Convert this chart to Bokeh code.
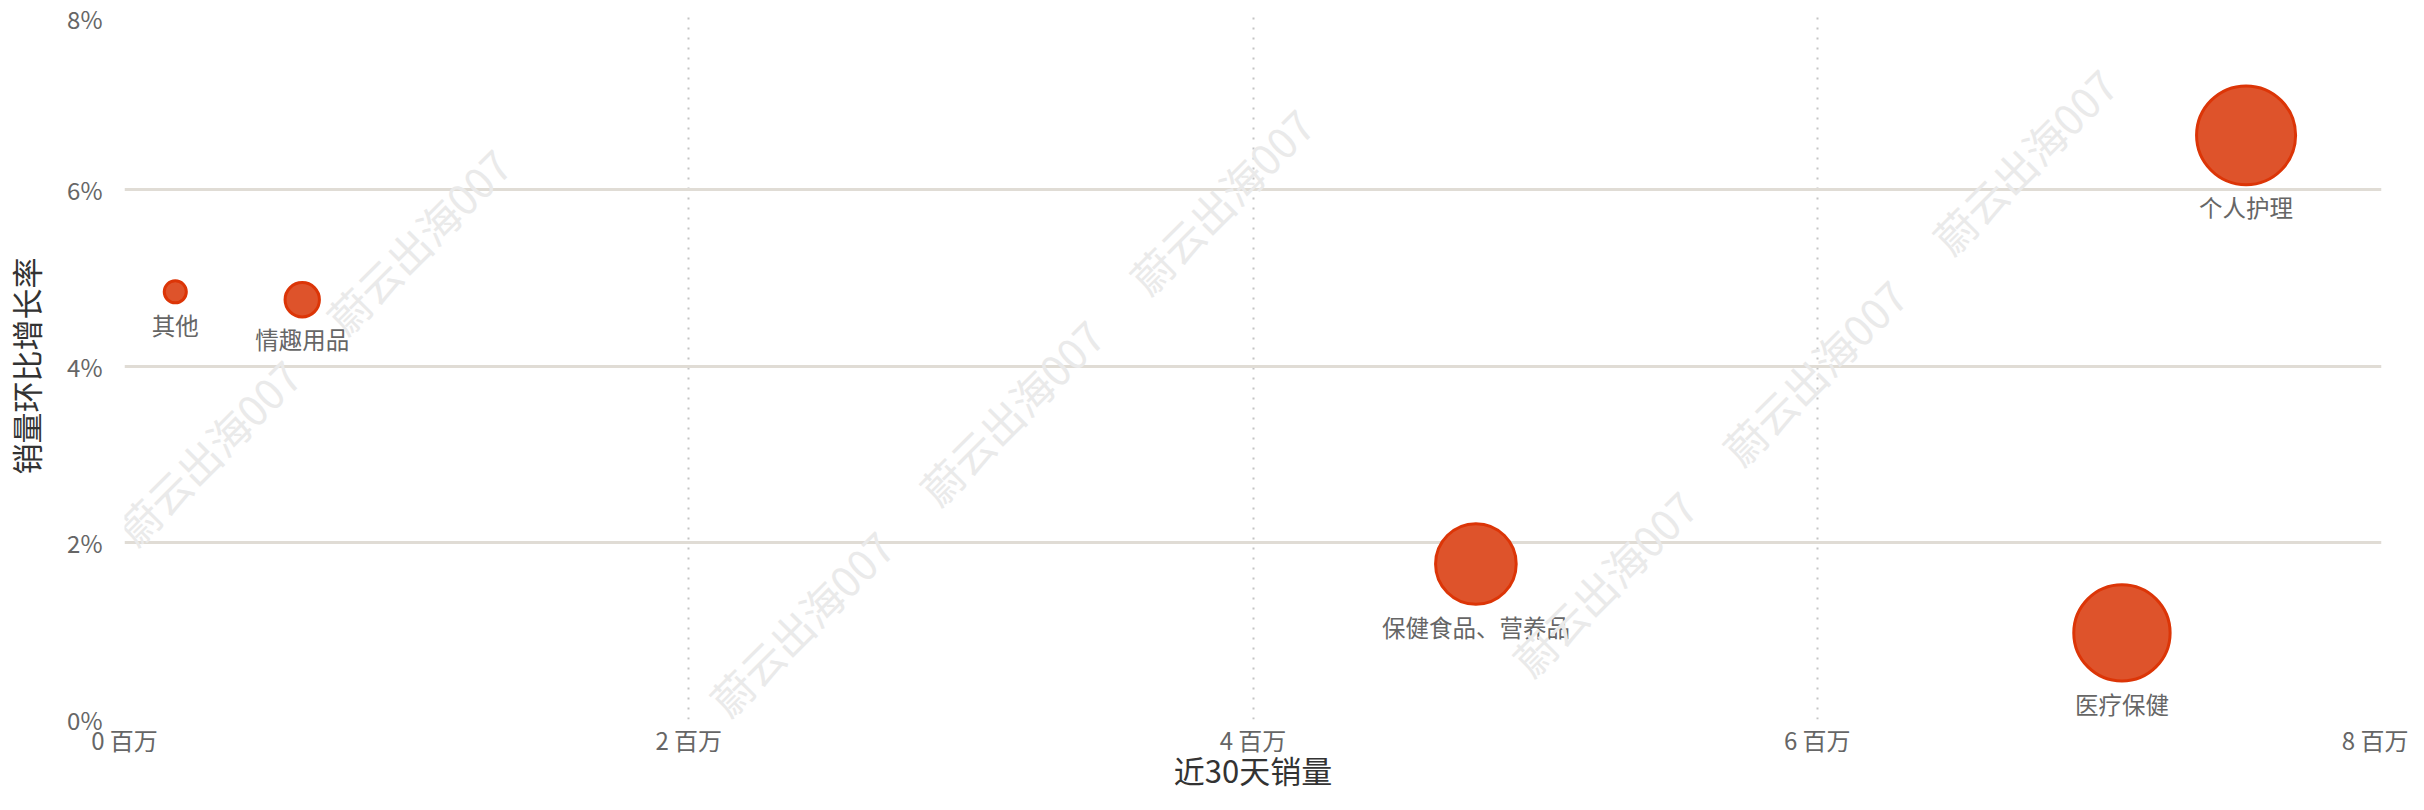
import math
from bokeh.plotting import figure
from bokeh.models import ColumnDataSource, Range1d, FixedTicker, PrintfTickFormatter, Label
from bokeh.embed import file_html
from bokeh.resources import INLINE
from bokeh.core.properties import value

# ---- data ----
categories = ["其他", "情趣用品", "保健食品、营养品", "医疗保健", "个人护理"]
sales_million = [0.18, 0.63, 4.79, 7.08, 7.52]      # 近30天销量 (百万)
growth_pct = [4.84, 4.75, 1.76, 0.98, 6.61]         # 销量环比增长率 (%)
x_ticks = [0, 2, 4, 6, 8]
y_ticks = [0, 2, 4, 6, 8]
x_title = "近30天销量"
y_title = "销量环比增长率"
watermark_text = "蔚云出海007"

# ---- style ----
FONT = "Noto Sans CJK SC"
FILL = "#DE532B"
EDGE = "#DC3507"

# bubble size encodes sales (sqrt scale, screen px)
radius = [4.0 + 16.6 * math.sqrt(v) for v in sales_million]
src = ColumnDataSource(dict(
    cat=categories, x=sales_million, y=growth_pct,
    size=[2 * r for r in radius],
    yoff=[r + 1.5 + 4 for r in radius],
))

p = figure(width=2408, height=794, output_backend="svg", toolbar_location=None,
           x_range=Range1d(0, 8), y_range=Range1d(0, 8),
           min_border_left=112, min_border_right=27, min_border_top=12,
           min_border_bottom=40)
p.outline_line_color = None
p.background_fill_color = "white"
p.border_fill_color = "white"

# grids
p.ygrid.grid_line_color = "#E0DCD5"
p.ygrid.grid_line_width = 3
p.xgrid.grid_line_color = "#C4C4C4"
p.xgrid.grid_line_width = 2
p.xgrid.grid_line_dash = "2 8"

# axes
p.xaxis.ticker = FixedTicker(ticks=x_ticks)
p.yaxis.ticker = FixedTicker(ticks=y_ticks)
p.xaxis.formatter = PrintfTickFormatter(format="%d 百万")
p.yaxis.formatter = PrintfTickFormatter(format="%d%%")
for ax in (p.xaxis, p.yaxis):
    ax.axis_line_color = None
    ax.major_tick_line_color = None
    ax.minor_tick_line_color = None
    ax.major_tick_out = 0
    ax.major_tick_in = 0
    ax.minor_tick_out = 0
    ax.minor_tick_in = 0
    ax.major_label_text_font = FONT
    ax.major_label_text_font_size = "24px"
    ax.major_label_text_color = "#666666"
    ax.axis_label_text_font = FONT
    ax.axis_label_text_font_size = "31px"
    ax.axis_label_text_color = "#333333"
    ax.axis_label_text_font_style = "normal"
p.xaxis.axis_label = x_title
p.yaxis.axis_label = y_title
p.xaxis.major_label_standoff = 2
p.yaxis.major_label_standoff = 22
p.xaxis.axis_label_standoff = -13
p.yaxis.axis_label_standoff = 16

# bubbles
p.scatter("x", "y", size="size", source=src, fill_color=FILL, fill_alpha=1.0,
          line_color=EDGE, line_width=3)
p.text("x", "y", text="cat", source=src, y_offset="yoff",
       text_align="center", text_baseline="top",
       text_font=value(FONT), text_font_size="23.5px", text_color="#666666")

# watermark (screen positions relative to frame)
wm_pos = [(204, 459), (414, 248), (797, 630), (1007, 419), (1217, 208),
          (1600, 590), (1810, 379), (2020, 168)]
for fx, fy in wm_pos:
    p.add_layout(Label(x=fx - 120.7, y=727 - fy, x_units="screen", y_units="screen",
                       text=watermark_text, angle=math.pi / 4,
                       text_align="center", text_baseline="middle",
                       text_font=FONT, text_font_size="42px",
                       text_color="#EAEAEA"))

open("out.html", "w").write(file_html(p, INLINE))
